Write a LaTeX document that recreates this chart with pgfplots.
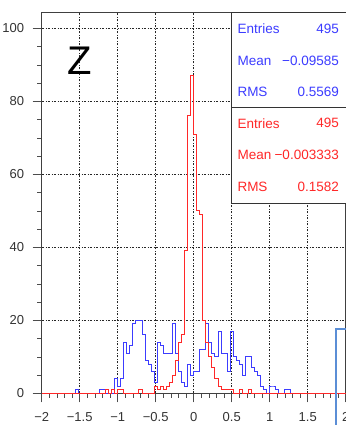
\documentclass[border=0pt]{standalone}
\usepackage{fontspec}
\setmainfont{Liberation Sans}
\usepackage{pgfplots}
\usepackage{pgfplotstable}
\pgfplotsset{compat=1.18}

\definecolor{hblue}{RGB}{60,60,255}
\definecolor{hred}{RGB}{255,40,40}
\definecolor{boxblue}{RGB}{91,142,214}

% bin low edge, counts of the two Z histograms (100 bins on [-2,2])
\pgfplotstableread{
x blue red
-2.00 0 0
-1.96 0 0
-1.92 0 0
-1.88 0 0
-1.84 0 0
-1.80 0 0
-1.76 0 0
-1.72 0 0
-1.68 0 0
-1.64 0 0
-1.60 0 0
-1.56 1 0
-1.52 0 0
-1.48 0 0
-1.44 0 0
-1.40 0 0
-1.36 0 0
-1.32 0 0
-1.28 0 0
-1.24 1 0
-1.20 1 0
-1.16 0 1
-1.12 0 0
-1.08 0 1
-1.04 4 0
-1.00 2 1
-0.96 4 1
-0.92 14 0
-0.88 11 0
-0.84 13 0
-0.80 19 0
-0.76 20 0
-0.72 20 1
-0.68 16 0
-0.64 9 0
-0.60 8 0
-0.56 6 0
-0.52 3 2
-0.48 14 1
-0.44 13 2
-0.40 11 1
-0.36 11 2
-0.32 11 3
-0.28 19 5
-0.24 11 9
-0.20 6 14
-0.16 3 16
-0.12 2 39
-0.08 8 76
-0.04 5 87
0.00 6 71
0.04 6 50
0.08 12 49
0.12 12 20
0.16 19 14
0.20 14 10
0.24 11 7
0.28 10 4
0.32 17 2
0.36 11 1
0.40 11 1
0.44 6 1
0.48 17 1
0.52 10 0
0.56 9 0
0.60 8 1
0.64 5 0
0.68 10 0
0.72 10 1
0.76 7 0
0.80 6 0
0.84 5 0
0.88 2 0
0.92 1 0
0.96 0 0
1.00 2 0
1.04 2 0
1.08 1 0
1.12 0 0
1.16 0 0
1.20 1 0
1.24 1 0
1.28 0 0
1.32 0 0
1.36 0 0
1.40 0 0
1.44 0 0
1.48 0 0
1.52 0 0
1.56 0 0
1.60 0 0
1.64 0 0
1.68 0 0
1.72 0 0
1.76 0 0
1.80 0 0
1.84 0 0
1.88 0 0
1.92 0 0
1.96 0 0
2.00 0 0
}\zhist

\begin{document}
\begin{tikzpicture}
\begin{axis}[
  at={(41.7pt,31.7pt)}, anchor=south west,
  scale only axis, width=304pt, height=381pt,
  xmin=-2, xmax=2, ymin=0, ymax=104.4,
  clip=false,
  xtick={-2,-1.5,-1,-0.5,0,0.5,1,1.5,2},
  xticklabels={−2,−1.5,−1,−0.5,0,0.5,1,1.5,2},
  ytick={0,20,40,60,80,100},
  yticklabels={0,20,40,60,80,100},
  minor x tick num=4, minor y tick num=3,
  tick pos=left, tick align=outside,
  major tick length=9pt, minor tick length=4.5pt,
  every tick/.style={black!70, line width=0.6pt},
  axis line style={black!75, line width=0.7pt},
  grid=major,
  major grid style={black!85, line width=0.6pt,
    dash pattern=on 2.6pt off 1.3pt on 0.8pt off 1.3pt},
  tick label style={font=\fontsize{13}{13}\selectfont, text=black!80, inner sep=0pt},
  xticklabel style={anchor=center, yshift=-14.4pt},
  yticklabel style={anchor=east, xshift=-8.4pt},
]
\addplot[const plot, hblue, line width=1pt] table[x=x, y=blue] {\zhist};
\addplot[const plot, hred, line width=1pt] table[x=x, y=red] {\zhist};
\end{axis}

% statistics boxes
\draw[black!80, line width=0.8pt, fill=white] (231.7pt,412.7pt) rectangle (370pt,317.7pt);
\draw[black!80, line width=0.8pt, fill=white] (231.7pt,317.7pt) rectangle (370pt,222pt);
\begin{scope}[every node/.style={font=\fontsize{13.5}{16}\selectfont, inner sep=0pt}]
  \node[anchor=west, text=hblue] at (237.3pt,396pt) {Entries};
  \node[anchor=east, text=hblue] at (339pt,396pt) {495};
  \node[anchor=west, text=hblue] at (237.3pt,364pt) {Mean};
  \node[anchor=east, text=hblue] at (339pt,364pt) {−0.09585};
  \node[anchor=west, text=hblue] at (237.3pt,333.5pt) {RMS};
  \node[anchor=east, text=hblue] at (339pt,333.5pt) {0.5569};
  \node[anchor=west, text=hred] at (237.3pt,301.7pt) {Entries};
  \node[anchor=east, text=hred] at (339pt,301.7pt) {495};
  \node[anchor=west, text=hred] at (237.3pt,270pt) {Mean};
  \node[anchor=east, text=hred] at (339pt,270pt) {−0.003333};
  \node[anchor=west, text=hred] at (237.3pt,238pt) {RMS};
  \node[anchor=east, text=hred] at (339pt,238pt) {0.1582};
\end{scope}

% variable name
\node[font=\fontsize{40}{40}\selectfont, inner sep=0pt] at (80pt,364.5pt) {Z};

% frame of the neighbouring pad
\draw[boxblue, line width=2.3pt] (336.3pt,-20pt) rectangle (380pt,96.2pt);

\pgfresetboundingbox
\useasboundingbox (0pt,0pt) rectangle (345pt,425pt);
\end{tikzpicture}
\end{document}
